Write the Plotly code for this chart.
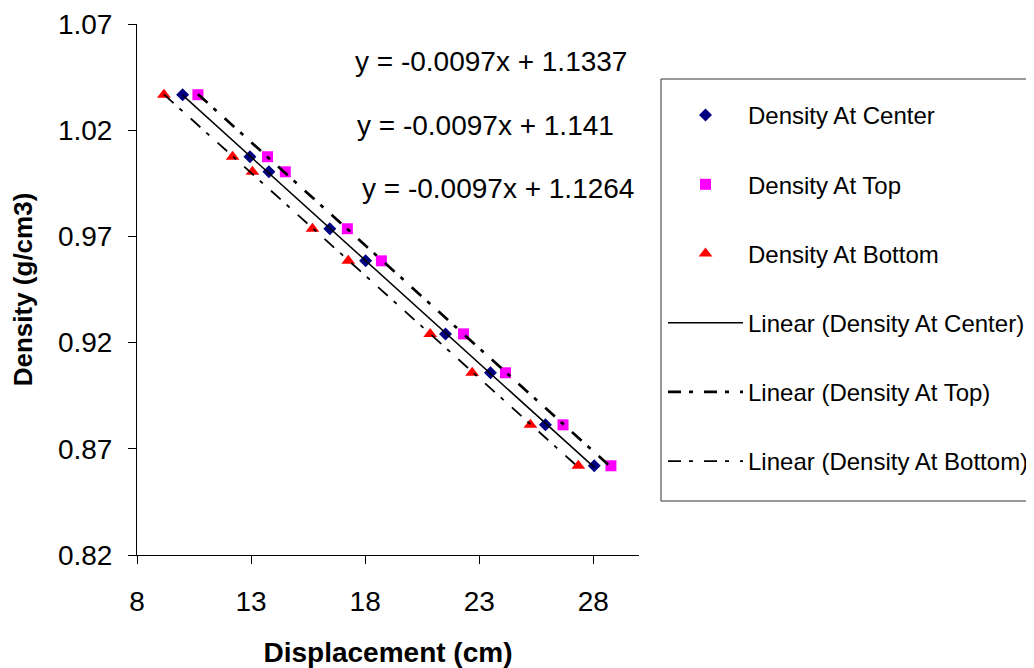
import numpy as np
import plotly.graph_objects as go

# ---- data ----
density = [1.0367, 1.0075, 1.0004, 0.9736, 0.9585, 0.9241, 0.9058, 0.8813, 0.862]
center_x = [10.0, 12.95, 13.78, 16.45, 18.02, 21.52, 23.49, 25.9, 28.04]
top_x = [10.67, 13.72, 14.5, 17.22, 18.71, 22.31, 24.15, 26.67, 28.77]
bottom_x = [9.18, 12.19, 13.06, 15.69, 17.26, 20.85, 22.69, 25.24, 27.34]
series_names = ["Density At Center", "Density At Top", "Density At Bottom"]
equations = ["y = -0.0097x + 1.1337", "y = -0.0097x + 1.141", "y = -0.0097x + 1.1264"]
x_ticks = [8, 13, 18, 23, 28]
y_ticks = [0.82, 0.87, 0.92, 0.97, 1.02, 1.07]

FONT = "Liberation Sans, Arial, sans-serif"

# figure geometry (page body has an 8px margin)
OFF = 8
W, H = 1034 - OFF, 668 - OFF
L, R, T, B = 137 - OFF, 639 - OFF, 24 - OFF, 555 - OFF


def px_x(px):
    return (px - OFF - L) / (R - L)


def px_y(py):
    return (B - (py - OFF)) / (B - T)


fig = go.Figure()

marker_styles = [
    dict(symbol="diamond", size=10, color="#000080"),
    dict(symbol="square", size=11, color="#FF00FF"),
    dict(symbol="triangle-up", size=12, color="#FF0000"),
]
xs = [center_x, top_x, bottom_x]

for name, xv, ms in zip(series_names, xs, marker_styles):
    fig.add_trace(go.Scatter(
        x=xv, y=density, mode="markers", name=name,
        marker=dict(symbol=ms["symbol"], size=ms["size"], color=ms["color"],
                    line=dict(width=0)),
        legendgroup=name,
    ))

line_styles = [
    dict(width=1.5, dash="solid"),
    dict(width=2.7, dash="13px,8px,4px,11px"),
    dict(width=1.8, dash="13px,8px,4px,11px"),
]
for name, xv, ls in zip(series_names, xs, line_styles):
    slope, intercept = np.polyfit(xv, density, 1)
    xl = np.array([min(xv), max(xv)])
    fig.add_trace(go.Scatter(
        x=xl, y=slope * xl + intercept, mode="lines",
        name=f"Linear ({name})",
        line=dict(color="black", width=ls["width"], dash=ls["dash"]),
        legendgroup="lin" + name,
    ))

eq_pos = [(353, 62), (355, 125), (360, 188)]
for text, (ex, ey) in zip(equations, eq_pos):
    fig.add_annotation(
        text=text, xref="paper", yref="paper", x=px_x(ex), y=px_y(ey),
        xanchor="left", yanchor="middle", showarrow=False,
        font=dict(family=FONT, size=28, color="black"),
    )

# legend frame
fig.add_shape(
    type="rect", xref="paper", yref="paper",
    x0=px_x(661), x1=px_x(1032), y0=px_y(501), y1=px_y(79),
    line=dict(color="#333333", width=1), fillcolor="white", layer="below",
)

axis_common = dict(
    showline=True, linecolor="black", linewidth=1, mirror=False,
    showgrid=False, zeroline=False, ticks="outside", ticklen=8,
    tickcolor="black", tickwidth=1, automargin=False,
    tickfont=dict(family=FONT, size=28, color="black"),
)

fig.update_layout(
    width=W, height=H,
    margin=dict(l=L, r=W - R, t=T, b=H - B, pad=0, autoexpand=False),
    paper_bgcolor="white", plot_bgcolor="white",
    font=dict(family=FONT, color="black"),
    xaxis=dict(range=[8, 30], tickvals=x_ticks, ticklabelstandoff=13,
               title=dict(text="<b>Displacement (cm)</b>", standoff=27,
                          font=dict(family=FONT, size=28, color="black")),
               **axis_common),
    yaxis=dict(range=[0.82, 1.07], tickvals=y_ticks, tickformat=".2f",
               ticklabelstandoff=10,
               title=dict(text="<b>Density (g/cm3)</b>", standoff=21,
                          font=dict(family=FONT, size=26, color="black")),
               **axis_common),
    legend=dict(
        x=px_x(663), y=px_y(93), xanchor="left", yanchor="top",
        bgcolor="rgba(0,0,0,0)", borderwidth=0,
        font=dict(family=FONT, size=24, color="black"),
        tracegroupgap=35, itemwidth=75,
    ),
    showlegend=True,
)

fig.write_html("out.html")
